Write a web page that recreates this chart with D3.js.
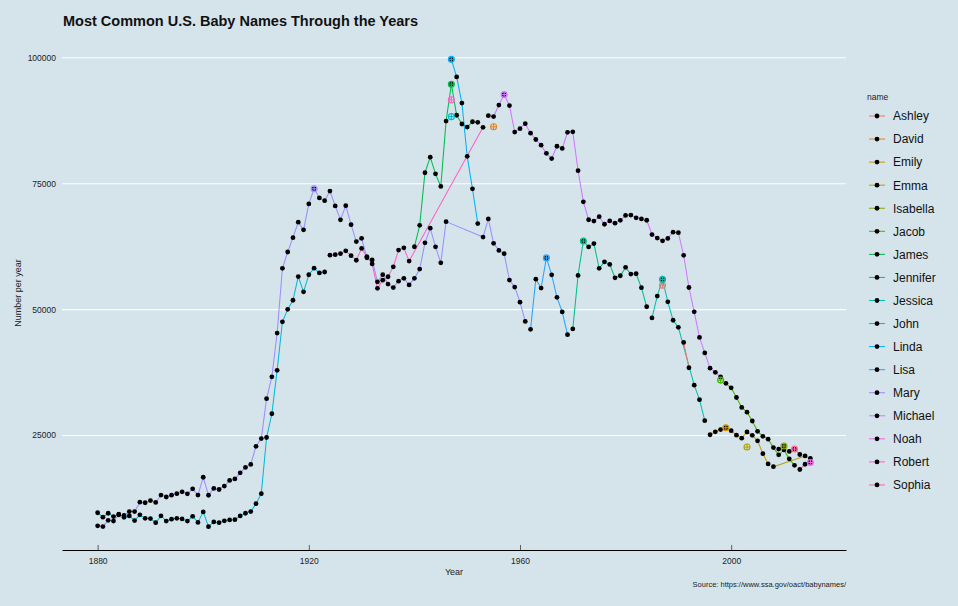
<!DOCTYPE html>
<html>
<head>
<meta charset="utf-8">
<script src="https://cdn.jsdelivr.net/npm/d3@7"></script>
<style>
  html, body { margin: 0; padding: 0; background: #d5e4eb; }
  svg { display: block; font-family: "Liberation Sans", Arial, sans-serif; }
</style>
</head>
<body>
<svg id="chart" width="958" height="606"></svg>
<script>
// most common female / male name per year, as runs [name, firstYear, lastYear]
const femaleRuns = [
  ["Mary", 1880, 1946], ["Linda", 1947, 1952], ["Mary", 1953, 1961], ["Lisa", 1962, 1969],
  ["Jennifer", 1970, 1984], ["Jessica", 1985, 1990], ["Ashley", 1991, 1992], ["Jessica", 1993, 1995],
  ["Emily", 1996, 2007], ["Emma", 2008, 2008], ["Isabella", 2009, 2010], ["Sophia", 2011, 2013],
  ["Emma", 2014, 2015]
];
const maleRuns = [
  ["John", 1880, 1923], ["Robert", 1924, 1939], ["James", 1940, 1952], ["Robert", 1953, 1953],
  ["Michael", 1954, 1959], ["David", 1960, 1960], ["Michael", 1961, 1998], ["Jacob", 1999, 2012],
  ["Noah", 2013, 2015]
];

// births per year for that name, 1880 .. 2015
const femaleCounts = [
  7065, 6919, 8148, 8012, 9217, 9128, 9889, 9888, 11754, 11648,
  12078, 11703, 13172, 12784, 13151, 13446, 13811, 13413, 14406, 13172,
  16707, 13136, 14486, 14275, 14961, 16067, 16370, 17580, 18665, 19259,
  22848, 24390, 32304, 36642, 45345, 58187, 61438, 64281, 67366, 65838,
  70980, 73985, 72175, 71635, 73536, 70593, 67830, 70636, 66868, 63510,
  64146, 60296, 59872, 55507, 56924, 55065, 54373, 55642, 56213, 54904,
  56201, 58040, 63251, 66168, 62459, 59288, 67467, 99689, 96211, 91016,
  80432, 73978, 67087, 64400, 68006, 63163, 61750, 61094, 55855, 54474,
  51475, 47655, 46078, 56039, 54277, 60266, 56912, 52435, 49531, 45028,
  46160, 56783, 63603, 62447, 63111, 58185, 59476, 58964, 56316, 56715,
  58385, 57049, 57115, 54342, 50561, 48346, 52674, 55991, 51538, 47885,
  46475, 43483, 38453, 34987, 32117, 27935, 25151, 25732, 26181, 26539,
  25953, 25055, 24463, 25688, 25033, 23937, 21398, 19355, 18813, 22298,
  22905, 21842, 22304, 21223, 20936, 20455
];
const maleCounts = [
  9655, 8769, 9557, 8894, 9388, 8756, 9026, 8110, 9247, 8548,
  8502, 7680, 9038, 8010, 8384, 8553, 8425, 7996, 8947, 7740,
  9829, 6900, 7830, 7681, 8058, 8232, 8280, 9021, 9561, 9886,
  11450, 13449, 24597, 29317, 37938, 47577, 50043, 51853, 56562, 53526,
  56914, 58215, 57280, 57469, 60799, 60897, 61130, 61671, 60700, 59800,
  62149, 60518, 59064, 54216, 55834, 56524, 58497, 61827, 62267, 59635,
  62476, 66735, 77176, 80264, 76951, 74449, 87433, 94757, 88588, 86857,
  86247, 87299, 87178, 86200, 88514, 88328, 90620, 92695, 90520, 85255,
  85929, 86917, 85034, 83779, 82642, 81021, 79989, 82440, 82003, 85202,
  85299, 77595, 71405, 67838, 67577, 68449, 66945, 67613, 67153, 67720,
  68695, 68765, 68228, 67995, 67736, 64906, 64205, 63647, 64133, 65382,
  65282, 60785, 54386, 49550, 44470, 41402, 38365, 37548, 36614, 35361,
  34471, 32541, 30568, 29630, 27879, 25830, 24841, 24273, 22592, 21169,
  22127, 20365, 19070, 18241, 19286, 19635
];

// each name's best year over the whole record
const peakNames  = ["Ashley", "David", "Emily", "Emma", "Isabella", "Jacob", "James", "Jennifer", "Jessica",
                    "John", "Linda", "Lisa", "Mary", "Michael", "Noah", "Robert", "Sophia"];
const peakYears  = [1987, 1955, 1999, 2003, 2010, 1998, 1947, 1972, 1987, 1947, 1947, 1965, 1921, 1957, 2015, 1947, 2012];
const peakCounts = [54846, 86300, 26539, 22704, 22905, 36000, 94757, 63603, 55991, 88318, 99689, 60266, 73985, 92695, 19635, 91642, 22304];

const yTicks = [25000, 50000, 75000, 100000];
const xTicks = [1880, 1920, 1960, 2000];

const firstYear = 1880;

function expandRuns(runs, counts) {
  const rows = [];
  runs.forEach(([name, a, b]) => {
    for (let yr = a; yr <= b; yr++) rows.push({ name, year: yr, n: counts[yr - firstYear] });
  });
  return rows;
}
const rows = expandRuns(femaleRuns, femaleCounts).concat(expandRuns(maleRuns, maleCounts));
const peaks = peakNames.map((name, i) => ({ name, year: peakYears[i], n: peakCounts[i] }));

// ggplot's default hue palette (polar LUV, c = 100, l = 65)
function hclLuv(h, c, l) {
  const Xn = 95.047, Yn = 100, Zn = 108.883;
  const un = 4 * Xn / (Xn + 15 * Yn + 3 * Zn), vn = 9 * Yn / (Xn + 15 * Yn + 3 * Zn);
  const hr = h * Math.PI / 180;
  const u = c * Math.cos(hr), v = c * Math.sin(hr);
  const Y = l > 8 ? Yn * Math.pow((l + 16) / 116, 3) : Yn * l / 903.3;
  const up = u / (13 * l) + un, vp = v / (13 * l) + vn;
  const X = 9 * Y * up / (4 * vp);
  const Z = -X / 3 - 5 * Y + 3 * Y / vp;
  const x = X / 100, y = Y / 100, z = Z / 100;
  const lin = [
    3.240479 * x - 1.537150 * y - 0.498535 * z,
    -0.969256 * x + 1.875992 * y + 0.041556 * z,
    0.055648 * x - 0.204043 * y + 1.057311 * z
  ];
  const g = lin.map(t => {
    const s = t <= 0.0031308 ? 12.92 * t : 1.055 * Math.pow(t, 1 / 2.4) - 0.055;
    return Math.round(Math.max(0, Math.min(1, s)) * 255);
  });
  return d3.rgb(g[0], g[1], g[2]).formatHex();
}
const legendNames = peakNames.slice().sort();
const hues = legendNames.map((d, i) => 15 + i * 360 / legendNames.length);
const color = d3.scaleOrdinal().domain(legendNames).range(hues.map(h => hclLuv(h, 100, 65)));

const svg = d3.select("#chart");
const W = 958, H = 606;
svg.append("rect").attr("width", W).attr("height", H).attr("fill", "#d5e4eb");

const panel = { left: 62, right: 846, top: 36, bottom: 550 };

// ggplot style 5% expansion
const allN = rows.map(d => d.n).concat(peakCounts);
const yMin = d3.min(allN), yMax = d3.max(allN);
const yPad = (yMax - yMin) * 0.05;
const xMin = d3.min(rows, d => d.year), xMax = d3.max(rows, d => d.year);
const xPad = (xMax - xMin) * 0.05;

const x = d3.scaleLinear().domain([xMin - xPad, xMax + xPad]).range([panel.left, panel.right]);
const y = d3.scaleLinear().domain([yMin - yPad, yMax + yPad]).range([panel.bottom, panel.top]);

// gridlines
svg.append("g").selectAll("line")
  .data(yTicks).enter().append("line")
  .attr("x1", panel.left).attr("x2", panel.right)
  .attr("y1", d => y(d)).attr("y2", d => y(d))
  .attr("stroke", "#ffffff").attr("stroke-width", 1.1);

// y labels
svg.append("g").selectAll("text")
  .data(yTicks).enter().append("text")
  .attr("x", 56).attr("y", d => y(d))
  .attr("dy", "0.35em")
  .attr("text-anchor", "end")
  .attr("font-size", 8.5)
  .attr("fill", "#222")
  .text(d => d);

// x axis
const xAxis = d3.axisBottom(x).tickValues(xTicks).tickFormat(d3.format("d")).tickSizeInner(-5).tickSizeOuter(0).tickPadding(8);
const gx = svg.append("g").attr("transform", `translate(0,${panel.bottom})`).call(xAxis);
gx.select(".domain").attr("stroke", "#000").attr("stroke-width", 1.1);
gx.selectAll(".tick line").attr("stroke", "#000").attr("stroke-width", 0.6);
gx.selectAll(".tick text").attr("font-size", 8.5).attr("fill", "#222").attr("font-family", "Liberation Sans, Arial, sans-serif");

// lines per name
const byName = d3.groups(rows, d => d.name).map(([name, vals]) => [name, vals.sort((a, b) => a.year - b.year)]);
const line = d3.line().x(d => x(d.year)).y(d => y(d.n));
svg.append("g").selectAll("path")
  .data(byName).enter().append("path")
  .attr("d", d => line(d[1]))
  .attr("fill", "none")
  .attr("stroke", d => color(d[0]))
  .attr("stroke-width", 1.05);

// points
svg.append("g").selectAll("circle")
  .data(rows).enter().append("circle")
  .attr("cx", d => x(d.year)).attr("cy", d => y(d.n))
  .attr("r", 2.4).attr("fill", "#000");

// peak markers (circle with cross)
const pk = svg.append("g").selectAll("g")
  .data(peaks).enter().append("g")
  .attr("transform", d => `translate(${x(d.year)},${y(d.n)})`)
  .attr("stroke", d => color(d.name))
  .attr("stroke-width", 1.1)
  .attr("fill", "none");
pk.append("circle").attr("r", 3);
pk.append("line").attr("x1", -3).attr("x2", 3);
pk.append("line").attr("y1", -3).attr("y2", 3);

// titles
svg.append("text")
  .attr("x", 63).attr("y", 26)
  .attr("font-size", 14.5).attr("font-weight", "bold").attr("fill", "#111")
  .text("Most Common U.S. Baby Names Through the Years");

svg.append("text")
  .attr("x", (panel.left + panel.right) / 2).attr("y", 575)
  .attr("text-anchor", "middle").attr("font-size", 9).attr("fill", "#222")
  .text("Year");

svg.append("text")
  .attr("transform", `translate(21,${(panel.top + panel.bottom) / 2}) rotate(-90)`)
  .attr("text-anchor", "middle").attr("font-size", 9).attr("fill", "#222")
  .text("Number per year");

svg.append("text")
  .attr("x", panel.right).attr("y", 587)
  .attr("text-anchor", "end").attr("font-size", 7.5).attr("fill", "#222")
  .text("Source: https://www.ssa.gov/oact/babynames/");

// legend
const lg = svg.append("g").attr("transform", "translate(866,97)");
lg.append("text").attr("x", 1).attr("y", 3).attr("font-size", 8.5).attr("fill", "#222").text("name");
const item = lg.selectAll("g.key")
  .data(legendNames).enter().append("g")
  .attr("class", "key")
  .attr("transform", (d, i) => `translate(0,${19 + i * 23.06})`);
item.append("line")
  .attr("x1", 3).attr("x2", 19)
  .attr("stroke", d => color(d)).attr("stroke-width", 1.05);
item.append("circle").attr("cx", 11).attr("r", 2.4).attr("fill", "#000");
item.append("text")
  .attr("x", 27).attr("dy", "0.36em")
  .attr("font-size", 12).attr("fill", "#111")
  .text(d => d);
</script>
</body>
</html>
